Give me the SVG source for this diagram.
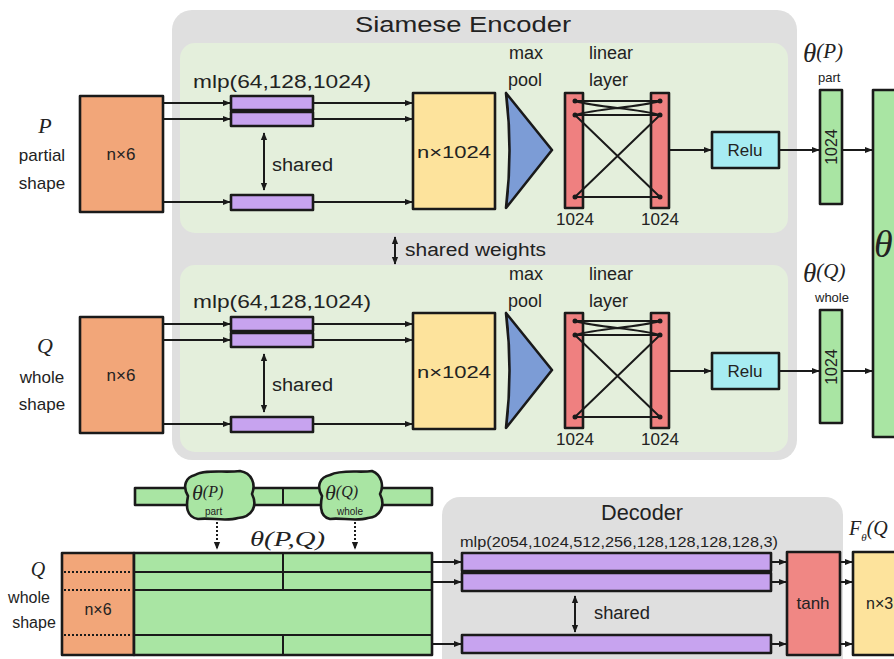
<svg xmlns="http://www.w3.org/2000/svg" width="894" height="659" viewBox="0 0 894 659">
<defs>
<marker id="ah" viewBox="0 0 10 10" refX="9" refY="5" markerWidth="8" markerHeight="8" markerUnits="userSpaceOnUse" orient="auto-start-reverse">
<path d="M0,1 L10,5 L0,9 Z" fill="#1a1a1a"/>
</marker>
<style>
.bx{stroke:#1a1a1a;stroke-width:2.6;stroke-linejoin:round}
.t{font-family:"Liberation Sans","DejaVu Sans",sans-serif;fill:#222}
.th{font-family:"Liberation Serif","DejaVu Serif",serif;font-style:italic;fill:#222}
.sub{font-family:"Liberation Sans","DejaVu Sans",sans-serif;font-style:normal}
.c{stroke:#1a1a1a;stroke-width:2;fill:none}
.ca{stroke:#1a1a1a;stroke-width:2;fill:none;marker-end:url(#ah)}
.cd{stroke:#1a1a1a;stroke-width:2;fill:none;marker-end:url(#ah);marker-start:url(#ah)}
.dot{stroke:#1a1a1a;stroke-width:2;fill:none;stroke-dasharray:2 2}
.or{fill:#f2a679}.pu{fill:#c7a3ef}.ye{fill:#fde39c}.bl{fill:#7c9cd6}.rd{fill:#ef8080}.cy{fill:#a7ecf2}.gr{fill:#a9e5a3}
</style>
</defs>
<rect width="894" height="659" fill="#ffffff"/>

<g id="siamese-encoder">
<rect x="172" y="10" width="625" height="450" rx="20" fill="#dfdfdf"/>
<text class="t" x="463" y="32" font-size="22" text-anchor="middle" textLength="216" lengthAdjust="spacingAndGlyphs">Siamese Encoder</text>
<rect x="180" y="43" width="608" height="190" rx="15" fill="#e4efdc"/>
<rect x="180" y="265" width="608" height="187" rx="15" fill="#e4efdc"/>
<text class="t" x="405" y="256" font-size="18" textLength="141" lengthAdjust="spacingAndGlyphs">shared weights</text>
</g>

<!-- upper branch -->
<g id="label-P">
<text class="th" x="45" y="133" font-size="22" text-anchor="middle">P</text>
<text class="t" x="42" y="161" font-size="17" text-anchor="middle">partial</text>
<text class="t" x="42" y="189" font-size="17" text-anchor="middle">shape</text>
</g>
<g id="input-P"><rect class="bx or" x="80" y="96" width="83" height="116"/><text class="t" x="121" y="160" font-size="17" text-anchor="middle">n×6</text></g>
<g id="mlp-P">
<text class="t" x="193" y="88" font-size="18" textLength="178" lengthAdjust="spacingAndGlyphs">mlp(64,128,1024)</text>
<rect class="bx pu" x="231" y="96" width="82" height="14"/>
<rect class="bx pu" x="231" y="112" width="82" height="14"/>
<rect class="bx pu" x="231" y="195" width="82" height="15"/>
<text class="t" x="272" y="171" font-size="18" textLength="61" lengthAdjust="spacingAndGlyphs">shared</text>
</g>
<g id="feat-P"><rect class="bx ye" x="413" y="93" width="82" height="116"/><text class="t" x="454" y="158" font-size="17" text-anchor="middle" textLength="74" lengthAdjust="spacingAndGlyphs">n×1024</text></g>
<g id="maxpool-P">
<text class="t" x="509" y="59" font-size="18">max</text>
<text class="t" x="508" y="86" font-size="18">pool</text>
<path class="bx bl" d="M506,93 Q513,150 506,208 L552,150 Z"/>
</g>
<g id="linear-P">
<text class="t" x="589" y="59" font-size="18">linear</text>
<text class="t" x="589" y="86" font-size="18">layer</text>
<rect class="bx rd" x="565" y="93" width="18" height="115"/>
<rect class="bx rd" x="651" y="93" width="18" height="115"/>
<g class="c">
<path d="M575,101 L660,101 M575,101 C600,108 635,108 660,115 M575,115 C600,108 635,108 660,101 M575,115 L660,115 M575,115 L660,197 M575,197 L660,115 M575,197 L660,197"/>
</g>
<g fill="#1a1a1a"><circle cx="575" cy="101" r="2.5"/><circle cx="575" cy="115" r="2.5"/><circle cx="575" cy="197" r="2.5"/><circle cx="660" cy="101" r="2.5"/><circle cx="660" cy="115" r="2.5"/><circle cx="660" cy="197" r="2.5"/></g>
<text class="t" x="575" y="225" font-size="17" text-anchor="middle">1024</text>
<text class="t" x="660" y="225" font-size="17" text-anchor="middle">1024</text>
</g>
<g id="relu-P"><rect class="bx cy" x="712" y="132" width="67" height="36"/><text class="t" x="745" y="156" font-size="17" text-anchor="middle">Relu</text></g>
<g id="theta-P">
<rect class="bx gr" x="820" y="90" width="22" height="114"/>
<text class="t" x="0" y="0" font-size="16" text-anchor="middle" transform="translate(837,147) rotate(-90)">1024</text>
<text class="th" x="803" y="62" font-size="27">θ<tspan font-size="21" dy="-4">(P)</tspan></text>
<text class="t" x="818" y="82" font-size="13">part</text>
</g>

<!-- lower branch -->
<g id="label-Q">
<text class="th" x="45" y="353" font-size="22" text-anchor="middle">Q</text>
<text class="t" x="42" y="383" font-size="17" text-anchor="middle">whole</text>
<text class="t" x="42" y="410" font-size="17" text-anchor="middle">shape</text>
</g>
<g id="input-Q"><rect class="bx or" x="80" y="317" width="83" height="116"/><text class="t" x="121" y="381" font-size="17" text-anchor="middle">n×6</text></g>
<g id="mlp-Q">
<text class="t" x="193" y="308" font-size="18" textLength="178" lengthAdjust="spacingAndGlyphs">mlp(64,128,1024)</text>
<rect class="bx pu" x="231" y="317" width="82" height="14"/>
<rect class="bx pu" x="231" y="333" width="82" height="14"/>
<rect class="bx pu" x="231" y="417" width="82" height="15"/>
<text class="t" x="272" y="391" font-size="18" textLength="61" lengthAdjust="spacingAndGlyphs">shared</text>
</g>
<g id="feat-Q"><rect class="bx ye" x="413" y="313" width="82" height="116"/><text class="t" x="454" y="378" font-size="17" text-anchor="middle" textLength="74" lengthAdjust="spacingAndGlyphs">n×1024</text></g>
<g id="maxpool-Q">
<text class="t" x="509" y="280" font-size="18">max</text>
<text class="t" x="508" y="307" font-size="18">pool</text>
<path class="bx bl" d="M506,313 Q513,370 506,428 L552,370 Z"/>
</g>
<g id="linear-Q">
<text class="t" x="589" y="280" font-size="18">linear</text>
<text class="t" x="589" y="307" font-size="18">layer</text>
<rect class="bx rd" x="565" y="313" width="18" height="115"/>
<rect class="bx rd" x="651" y="313" width="18" height="115"/>
<g class="c">
<path d="M575,321 L660,321 M575,321 C600,328 635,328 660,335 M575,335 C600,328 635,328 660,321 M575,335 L660,335 M575,335 L660,417 M575,417 L660,335 M575,417 L660,417"/>
</g>
<g fill="#1a1a1a"><circle cx="575" cy="321" r="2.5"/><circle cx="575" cy="335" r="2.5"/><circle cx="575" cy="417" r="2.5"/><circle cx="660" cy="321" r="2.5"/><circle cx="660" cy="335" r="2.5"/><circle cx="660" cy="417" r="2.5"/></g>
<text class="t" x="575" y="445" font-size="17" text-anchor="middle">1024</text>
<text class="t" x="660" y="445" font-size="17" text-anchor="middle">1024</text>
</g>
<g id="relu-Q"><rect class="bx cy" x="712" y="353" width="67" height="36"/><text class="t" x="745" y="377" font-size="17" text-anchor="middle">Relu</text></g>
<g id="theta-Q">
<rect class="bx gr" x="820" y="310" width="22" height="113"/>
<text class="t" x="0" y="0" font-size="16" text-anchor="middle" transform="translate(837,367) rotate(-90)">1024</text>
<text class="th" x="803" y="282" font-size="27">θ<tspan font-size="21" dy="-4">(Q)</tspan></text>
<text class="t" x="815" y="302" font-size="13">whole</text>
</g>

<g id="theta-concat">
<rect class="bx gr" x="873" y="90" width="30" height="347"/>
<text class="th" x="874" y="257" font-size="38">θ</text>
</g>

<!-- bottom section -->
<g id="theta-PQ-strip">
<rect class="bx gr" x="135" y="488" width="297" height="17"/>
<line class="c" x1="283" y1="488" x2="283" y2="505"/>
</g>
<g id="blob-P">
<path class="bx gr" d="M195,475 C205,469 225,473 240,471 C252,473 256,484 252,494 C258,506 252,517 238,518 C225,522 210,517 198,519 C186,517 186,506 188,496 C182,486 186,477 195,475 Z"/>
<text class="th" x="192" y="500" font-size="22">θ<tspan font-size="16" dy="-3">(P)</tspan></text>
<text class="t" x="205" y="515" font-size="10">part</text>
</g>
<g id="blob-Q">
<path class="bx gr" d="M330,475 C342,469 360,473 372,471 C382,475 384,486 380,494 C386,506 380,517 368,518 C355,522 340,517 330,519 C320,517 320,506 322,496 C316,486 320,477 330,475 Z"/>
<text class="th" x="325" y="500" font-size="22">θ<tspan font-size="16" dy="-3">(Q)</tspan></text>
<text class="t" x="337" y="515" font-size="10">whole</text>
</g>
<text class="th" x="250" y="546" font-size="22" textLength="75" lengthAdjust="spacingAndGlyphs">θ(P,Q)</text>

<g id="label-Q2">
<text class="th" x="38" y="576" font-size="20" text-anchor="middle">Q</text>
<text class="t" x="29" y="603" font-size="16" text-anchor="middle">whole</text>
<text class="t" x="34" y="628" font-size="16" text-anchor="middle">shape</text>
</g>
<g id="decoder-input">
<rect class="bx or" x="62" y="553" width="72" height="102"/>
<rect class="bx gr" x="134" y="553" width="298" height="102"/>
<g class="c"><path d="M134,572 L432,572 M134,590 L432,590 M134,635 L432,635 M283,553 L283,590 M283,635 L283,655"/></g>
<g class="dot" stroke-width="2"><path d="M64,572 L132,572 M64,590 L132,590 M64,635 L132,635"/></g>
<text class="t" x="98" y="615" font-size="16" text-anchor="middle">n×6</text>
</g>

<g id="decoder">
<rect x="442" y="497" width="401" height="180" rx="18" fill="#dfdfdf"/>
<text class="t" x="642" y="520" font-size="22" text-anchor="middle" textLength="82" lengthAdjust="spacingAndGlyphs">Decoder</text>
<text class="t" x="460" y="547" font-size="15" textLength="318" lengthAdjust="spacingAndGlyphs">mlp(2054,1024,512,256,128,128,128,128,3)</text>
<rect class="bx pu" x="462" y="553" width="309" height="18"/>
<rect class="bx pu" x="462" y="573" width="309" height="18"/>
<rect class="bx pu" x="462" y="635" width="309" height="18"/>
<text class="t" x="594" y="619" font-size="18" textLength="56" lengthAdjust="spacingAndGlyphs">shared</text>
</g>
<g id="tanh"><rect class="bx rd" x="787" y="552" width="53" height="103" style="fill:#f08784"/><text class="t" x="813" y="609" font-size="17" text-anchor="middle">tanh</text></g>
<g id="output">
<rect class="bx ye" x="853" y="552" width="50" height="103"/>
<text class="t" x="866" y="609" font-size="16">n×3</text>
<text class="th" x="849" y="535" font-size="20">F<tspan font-size="11" dy="6">θ</tspan><tspan dy="-6">(Q</tspan></text>
</g>

<g id="connectors">
<path class="ca" d="M163,103 L230,103"/>
<path class="ca" d="M163,119 L230,119"/>
<path class="ca" d="M163,202 L230,202"/>
<path class="ca" d="M313,103 L412,103"/>
<path class="ca" d="M313,119 L412,119"/>
<path class="ca" d="M313,202 L412,202"/>
<path class="cd" d="M264,133 L264,190"/>
<path class="ca" d="M669,150 L711,150"/>
<path class="ca" d="M779,150 L819,150"/>
<path class="ca" d="M842,150 L872,150"/>
<path class="ca" d="M163,324 L230,324"/>
<path class="ca" d="M163,340 L230,340"/>
<path class="ca" d="M163,424 L230,424"/>
<path class="ca" d="M313,324 L412,324"/>
<path class="ca" d="M313,340 L412,340"/>
<path class="ca" d="M313,424 L412,424"/>
<path class="cd" d="M264,354 L264,412"/>
<path class="ca" d="M669,371 L711,371"/>
<path class="ca" d="M779,371 L819,371"/>
<path class="ca" d="M842,371 L872,371"/>
<path class="cd" d="M395,237 L395,264"/>
<path class="dot" marker-end="url(#ah)" d="M217,522 L217,549"/>
<path class="dot" marker-end="url(#ah)" d="M355,522 L355,549"/>
<path class="ca" d="M432,562 L461,562"/>
<path class="ca" d="M432,582 L461,582"/>
<path class="ca" d="M432,644 L461,644"/>
<path class="cd" d="M575,596 L575,632"/>
<path class="ca" d="M771,562 L786,562"/>
<path class="ca" d="M771,582 L786,582"/>
<path class="ca" d="M771,644 L786,644"/>
<path class="ca" d="M840,562 L852,562"/>
<path class="ca" d="M840,582 L852,582"/>
<path class="ca" d="M840,644 L852,644"/>
</g>
</svg>
